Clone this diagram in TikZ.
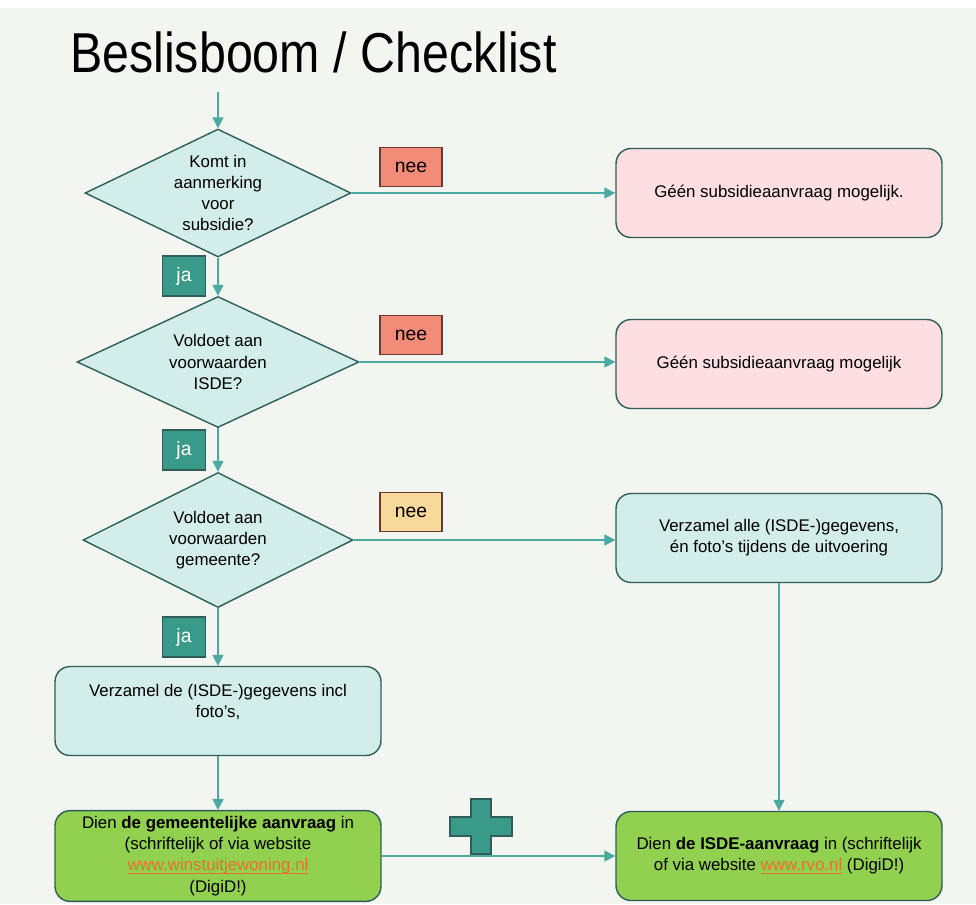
\documentclass[tikz,border=0pt]{standalone}
\usepackage{fontspec}
\setmainfont{Liberation Sans}
\usetikzlibrary{shapes.geometric,arrows.meta}

\definecolor{achter}{HTML}{F3F5F0}
\definecolor{lijn}{HTML}{4AA9A0}
\definecolor{rand}{HTML}{2F5D57}
\definecolor{lichtblauw}{HTML}{D3EDEA}
\definecolor{roze}{HTML}{FDDEE1}
\definecolor{groen}{HTML}{92D050}
\definecolor{zalm}{HTML}{F28B78}
\definecolor{zand}{HTML}{F6D99B}
\definecolor{jagroen}{HTML}{3A9A89}
\definecolor{neerand}{HTML}{6B3A33}
\definecolor{webrood}{HTML}{E8702A}

\newcommand{\tekst}{\fontsize{9.6}{12}\selectfont}
\newlength{\linkbreedte}
\newcommand{\weblink}[1]{\settowidth{\linkbreedte}{#1}\textcolor{webrood}{\rlap{\rule[-1.6pt]{\linkbreedte}{0.5pt}}#1}}

\begin{document}
\begin{tikzpicture}[x=0.02cm,y=-0.02cm,
	keuze/.style={diamond, draw=rand, line width=0.8pt, fill=lichtblauw, aspect=2, inner sep=0pt, align=center, font=\tekst},
	stap/.style={rectangle, rounded corners=0.3cm, draw=rand, line width=0.8pt, minimum width=6.52cm, minimum height=1.78cm, align=center, font=\tekst},
	nee/.style={rectangle, draw=neerand, line width=0.8pt, minimum width=1.24cm, minimum height=0.78cm, font=\fontsize{11}{13}\selectfont},
	ja/.style={rectangle, draw=rand, line width=0.8pt, fill=jagroen, text=white, minimum width=0.86cm, minimum height=0.8cm, font=\fontsize{11}{13}\selectfont},
	pijl/.style={draw=lijn, line width=0.8pt, -{Triangle[length=0.22cm,width=0.22cm]}}]

	\useasboundingbox (0,0) rectangle (976,904);
	\fill[white] (0,0) rectangle (976,904);
	\fill[achter] (0,8) rectangle (976,904);

	\node[anchor=base west] (titel) at (64,72) {\fontsize{32}{38}\selectfont\scalebox{0.86}[1]{Beslisboom / Checklist}};

	\coordinate (start) at (218,92);
	\node[keuze, minimum width=5.32cm, minimum height=2.56cm] (d1) at (218,193) {Komt in\\aanmerking\\voor\\subsidie?};
	\node[keuze, minimum width=5.64cm, minimum height=2.62cm] (d2) at (218,362) {Voldoet aan\\voorwaarden\\ISDE?};
	\node[keuze, minimum width=5.40cm, minimum height=2.70cm] (d3) at (218,540) {Voldoet aan\\voorwaarden\\gemeente?};

	\node[stap, fill=roze] (g1) at (779,193) {Géén subsidieaanvraag mogelijk.};
	\node[stap, fill=roze] (g2) at (779,364) {Géén subsidieaanvraag mogelijk};
	\node[stap, fill=lichtblauw] (v2) at (779,538) {Verzamel alle (ISDE-)gegevens,\\én foto’s tijdens de uitvoering};
	\node[stap, fill=lichtblauw] (v1) at (218,711) {Verzamel de (ISDE-)gegevens incl\\foto’s,\\\mbox{}};
	\node[stap, fill=groen] (a1) at (218,856) {Dien \textbf{de gemeentelijke aanvraag} in\\(schriftelijk of via website\\\weblink{www.winstuitjewoning.nl}\\(DigiD!)};
	\node[stap, fill=groen] (a2) at (779,856) {Dien \textbf{de ISDE-aanvraag} in (schriftelijk\\of via website \weblink{www.rvo.nl} (DigiD!)};

	\node[nee, fill=zalm] (n1) at (411,167) {nee};
	\node[nee, fill=zalm] (n2) at (411,335) {nee};
	\node[nee, fill=zand] (n3) at (411,512) {nee};
	\node[ja] (j1) at (184,276) {ja};
	\node[ja] (j2) at (184,450) {ja};
	\node[ja] (j3) at (184,637) {ja};

	\draw[pijl] (start) -- (d1.north);
	\draw[pijl] (d1.south) -- (d2.north);
	\draw[pijl] (d2.south) -- (d3.north);
	\draw[pijl] (d3.south) -- (v1.north);
	\draw[pijl] (d1.east) -- (d1.east -| g1.west);
	\draw[pijl] (d2.east) -- (d2.east -| g2.west);
	\draw[pijl] (d3.east) -- (d3.east -| v2.west);
	\draw[pijl] (v1.south) -- (a1.north);
	\draw[pijl] (v2.south) -- (a2.north);
	\draw[pijl] (a1.east) -- (a2.west);

	\draw[draw=rand, line width=0.8pt, fill=jagroen] (471,799) -- (491,799) -- (491,817) -- (512,817) -- (512,836) -- (491,836) -- (491,854) -- (471,854) -- (471,836) -- (450,836) -- (450,817) -- (471,817) -- cycle;
\end{tikzpicture}
\end{document}
